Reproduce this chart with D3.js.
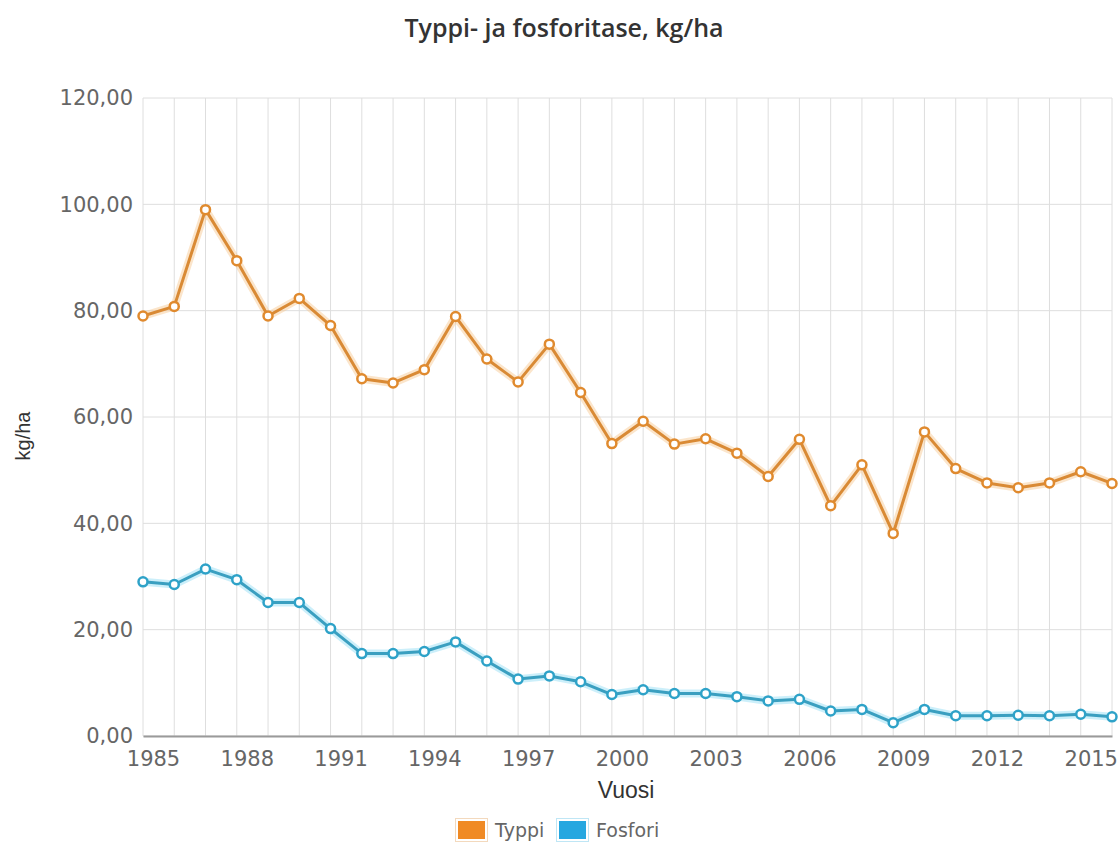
<!DOCTYPE html>
<html>
<head>
<meta charset="utf-8">
<script src="https://cdn.jsdelivr.net/npm/d3@7"></script>
<style>
  body { margin: 0; background: #fff; }
  svg { display: block; }
</style>
</head>
<body>
<div id="chart"></div>
<script>
// data
const years = d3.range(1985, 2017);
const typpi = [79.0, 80.8, 99.0, 89.4, 79.0, 82.3, 77.2, 67.2, 66.4, 68.9, 78.9, 70.9, 66.6, 73.7, 64.6, 55.0,
               59.2, 54.9, 55.9, 53.2, 48.8, 55.8, 43.3, 51.0, 38.1, 57.2, 50.3, 47.6, 46.7, 47.6, 49.7, 47.5];
const fosfori = [29.0, 28.5, 31.4, 29.4, 25.1, 25.1, 20.2, 15.5, 15.5, 15.9, 17.7, 14.1, 10.7, 11.3, 10.2, 7.8,
                 8.7, 8.0, 8.0, 7.4, 6.6, 6.9, 4.7, 5.0, 2.5, 5.0, 3.8, 3.8, 3.9, 3.8, 4.1, 3.6];
const yTicks = [0, 20, 40, 60, 80, 100, 120];
const xTickYears = [1985, 1988, 1991, 1994, 1997, 2000, 2003, 2006, 2009, 2012, 2015];

const series = [
  { name: "Typpi", values: typpi, line: "#d98a35", halo: "#f6c58c", marker: "#e08a2e", swatch: "#f08a24", border: "#f3d9bd" },
  { name: "Fosfori", values: fosfori, line: "#3a9fc0", halo: "#8fdcf5", marker: "#2ea2c8", swatch: "#25a7e0", border: "#bfe6f5" }
];

const width = 1120, height = 844;
const margin = { top: 98, right: 8, bottom: 108, left: 143 };

const svg = d3.select("#chart").append("svg")
    .attr("width", width)
    .attr("height", height);

const x = d3.scaleLinear().domain([1985, 2016]).range([margin.left, width - margin.right]);
const y = d3.scaleLinear().domain([0, 120]).range([height - margin.bottom, margin.top]);

// title
svg.append("text")
    .attr("x", 564).attr("y", 37)
    .attr("text-anchor", "middle")
    .style("font-family", "'Open Sans', sans-serif")
    .style("font-weight", 600)
    .style("font-size", "25px")
    .style("fill", "#333")
    .text("Typpi- ja fosforitase, kg/ha");

// grid
svg.append("g")
    .selectAll("line")
    .data(years)
    .join("line")
    .attr("x1", d => x(d)).attr("x2", d => x(d))
    .attr("y1", y(120)).attr("y2", y(0))
    .attr("stroke", "#dedede").attr("stroke-width", 1);

svg.append("g")
    .selectAll("line")
    .data(yTicks)
    .join("line")
    .attr("x1", x(1985)).attr("x2", x(2016))
    .attr("y1", d => y(d)).attr("y2", d => y(d))
    .attr("stroke", "#dedede").attr("stroke-width", 1);

// y axis
const yAxis = svg.append("g")
    .attr("transform", `translate(${margin.left},0)`)
    .call(d3.axisLeft(y).tickValues(yTicks).tickSize(0).tickPadding(10)
        .tickFormat(d => d3.format(".2f")(d).replace(".", ",")));
yAxis.select(".domain").remove();
yAxis.selectAll("text")
    .style("font-family", "'DejaVu Sans', sans-serif")
    .style("font-size", "21px")
    .style("fill", "#666");

// x axis
const xAxis = svg.append("g")
    .attr("transform", `translate(0,${y(0)})`)
    .call(d3.axisBottom(x).tickValues(xTickYears).tickSize(0).tickPadding(15).tickFormat(d3.format("d")));
xAxis.select(".domain").attr("stroke", "#9a9a9a").attr("stroke-width", 2);
xAxis.selectAll("text")
    .attr("dx", 10)
    .style("font-family", "'DejaVu Sans', sans-serif")
    .style("font-size", "21px")
    .style("fill", "#666");

// axis titles
svg.append("text")
    .attr("x", 626).attr("y", 798)
    .attr("text-anchor", "middle")
    .style("font-family", "'Liberation Sans', Arial, sans-serif")
    .style("font-size", "23px")
    .style("fill", "#333")
    .text("Vuosi");

svg.append("text")
    .attr("transform", "translate(30,436) rotate(-90)")
    .attr("text-anchor", "middle")
    .style("font-family", "'Liberation Sans', Arial, sans-serif")
    .style("font-size", "20px")
    .style("fill", "#333")
    .text("kg/ha");

// lines and markers
const line = d3.line()
    .x((d, i) => x(years[i]))
    .y(d => y(d));

series.forEach(s => {
  const g = svg.append("g");
  g.append("path")
      .datum(s.values)
      .attr("d", line)
      .attr("fill", "none")
      .attr("stroke", s.halo)
      .attr("stroke-opacity", 0.45)
      .attr("stroke-width", 8)
      .attr("stroke-linejoin", "round");
  g.append("path")
      .datum(s.values)
      .attr("d", line)
      .attr("fill", "none")
      .attr("stroke", s.line)
      .attr("stroke-width", 3)
      .attr("stroke-linejoin", "round");
  g.selectAll("circle")
      .data(s.values)
      .join("circle")
      .attr("cx", (d, i) => x(years[i]))
      .attr("cy", d => y(d))
      .attr("r", 4.5)
      .attr("fill", "#fff")
      .attr("stroke", s.marker)
      .attr("stroke-width", 2.5);
});

// legend
const legend = svg.append("g").attr("transform", "translate(455,818)");
const legendX = [0, 101];
series.forEach((s, i) => {
  const item = legend.append("g").attr("transform", `translate(${legendX[i]},0)`);
  item.append("rect")
      .attr("x", 0.5).attr("y", 0.5)
      .attr("width", 32).attr("height", 23)
      .attr("fill", "#fff")
      .attr("stroke", s.border);
  item.append("rect")
      .attr("x", 3).attr("y", 3)
      .attr("width", 27).attr("height", 18)
      .attr("fill", s.swatch);
  item.append("text")
      .attr("x", 40).attr("y", 19)
      .style("font-family", "'DejaVu Sans', sans-serif")
      .style("font-size", "19px")
      .style("fill", "#666")
      .text(s.name);
});
</script>
</body>
</html>
